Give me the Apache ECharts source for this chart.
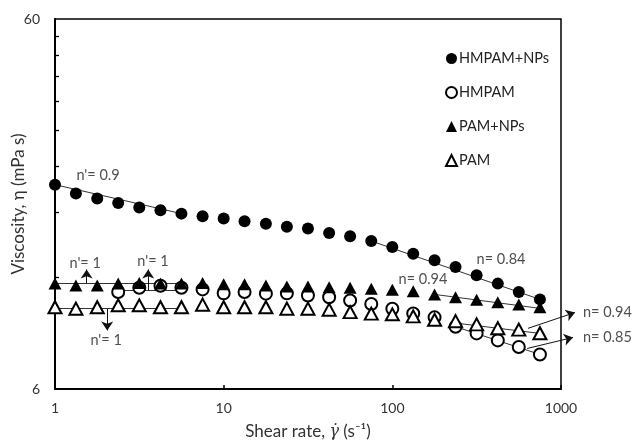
<!DOCTYPE html>
<html>
<head>
<meta charset="utf-8">
<script src="https://cdn.jsdelivr.net/npm/echarts@6/dist/echarts.min.js"></script>
<style>html,body{margin:0;padding:0;background:#fff}#c{width:632px;height:444px}</style>
</head>
<body>
<div id="c"></div>
<script>
const shearRate = [1, 1.33, 1.78, 2.37, 3.16, 4.22, 5.62, 7.5, 10, 13.3, 17.8, 23.7, 31.6, 42.2, 56.2, 75, 100, 133, 178, 237, 316, 422, 562, 750];
const hmpamNPs = [21.4, 20.25, 19.63, 19.1, 18.56, 18.25, 17.87, 17.57, 17.33, 17.04, 16.79, 16.48, 16.28, 15.84, 15.52, 15.07, 14.52, 13.93, 13.37, 12.82, 12.17, 11.56, 10.97, 10.48];
const hmpam = [null, null, null, 10.97, 11.27, 11.41, 11.27, 11.15, 10.88, 10.97, 10.86, 10.88, 10.74, 10.62, 10.41, 10.18, 9.89, 9.60, 9.37, 8.84, 8.48, 8.12, 7.79, 7.44];
const pamNPs = [11.56, 11.43, 11.43, 11.56, 11.60, 11.56, 11.56, 11.60, 11.51, 11.51, 11.43, 11.36, 11.36, 11.31, 11.27, 11.20, 11.13, 11.03, 10.81, 10.62, 10.45, 10.29, 10.15, 9.98];
const pam = [9.98, 9.89, 9.98, 10.10, 10.10, 9.98, 9.98, 10.14, 9.98, 9.98, 9.98, 9.89, 9.89, 9.83, 9.68, 9.59, 9.55, 9.43, 9.23, 9.15, 8.97, 8.76, 8.68, 8.49];
const seriesNames = ['HMPAM+NPs', 'HMPAM', 'PAM+NPs', 'PAM'];
const xTickLabels = [1, 10, 100, 1000];
const yTickLabels = [6, 60];
const yMinorTicks = [12, 18, 24, 30, 36, 42, 48, 54];
const fitLines = [
  [[1, 21.4], [5.62, 17.87]],
  [[75, 15.07], [750, 10.48]],
  [[1, 11.6], [5.62, 11.6]],
  [[2.37, 11.1], [5.62, 11.1]],
  [[1, 9.89], [5.62, 9.89]],
  [[178, 10.81], [750, 9.91]],
  [[230, 9.06], [750, 8.48]],
  [[237, 8.84], [750, 7.44]]
];
const arrows = [
  [[637, 8.75], [1211, 9.66]],
  [[630, 7.72], [1178, 8.27]],
  [[1.54, 11.6], [1.54, 12.63]],
  [[3.57, 11.1], [3.57, 12.63]],
  [[2.04, 9.89], [2.04, 8.64]]
];
const labelsCenter = [
  ["n'= 0.9", 1.80, 22.69],
  ["n'= 1", 1.51, 13.11],
  ["n'= 1", 3.81, 13.28],
  ["n'= 1", 2.01, 8.12],
  ['n= 0.84', 441, 13.44],
  ['n= 0.94', 152, 11.87]
];
const labelsLeft = [
  ['n= 0.94', 1350, 9.66],
  ['n= 0.85', 1350, 8.27]
];

const FONT = 'Lato';
const chart = echarts.init(document.getElementById('c'), null, {renderer: 'canvas'});
function pairs(ys) { return shearRate.map((x, i) => ys[i] == null ? null : [x, ys[i]]).filter(p => p); }
const symbols = ['circle', 'emptyCircle', 'triangle', 'emptyTriangle'];
const dataSets = [hmpamNPs, hmpam, pamNPs, pam];
const scatterSeries = seriesNames.map((n, i) => ({
  name: n, type: 'scatter', data: pairs(dataSets[i]), symbol: symbols[i],
  symbolSize: i < 2 ? 12 : [13, 12],
  itemStyle: {color: '#000', borderColor: '#000', borderWidth: i % 2 ? 1.7 : 0, opacity: 1},
  z: 3 + i
}));
chart.setOption({
  animation: false,
  textStyle: {fontFamily: FONT},
  grid: {left: 55, right: 71, top: 19, bottom: 55, outerBoundsMode: 'none', containLabel: false,
    show: true, borderColor: '#000', borderWidth: 1.5, backgroundColor: 'transparent'},
  legend: {
    data: seriesNames, orient: 'vertical', left: 440, top: 46, itemGap: 19, itemWidth: 11, itemHeight: 11,
    textStyle: {fontFamily: FONT, fontSize: 14.5, color: '#222', padding: [0, 0, 0, -3]}
  },
  xAxis: {
    type: 'log', logBase: 10, min: 1, max: 1000,
    name: 'Shear rate, {g|γ̇} (s⁻¹)', nameLocation: 'middle', nameGap: 34, nameMoveOverlap: false,
    nameTextStyle: {fontFamily: FONT, fontSize: 17, color: '#333',
      rich: {g: {fontFamily: 'DejaVu Serif', fontStyle: 'italic', fontSize: 16, color: '#333'}}},
    axisLine: {lineStyle: {color: '#000', width: 2}},
    axisTick: {inside: true, length: 4, lineStyle: {color: '#000', width: 1.5}},
    axisLabel: {customValues: xTickLabels, formatter: v => String(v), fontFamily: FONT, fontSize: 14, color: '#333', margin: 12},
    splitLine: {show: false}, minorTick: {show: false}
  },
  yAxis: {
    type: 'log', logBase: 10, min: 6, max: 60,
    name: 'Viscosity, η (mPa s)', nameLocation: 'middle', nameGap: 28, nameMoveOverlap: false,
    nameTextStyle: {fontFamily: FONT, fontSize: 17, color: '#333'},
    axisLine: {lineStyle: {color: '#000', width: 2}},
    axisTick: {show: true, inside: true, length: 4, customValues: yMinorTicks, lineStyle: {color: '#000', width: 1.3}},
    axisLabel: {
      formatter: v => (yTickLabels.indexOf(Math.round(v)) >= 0 && Math.abs(v - Math.round(v)) < 1e-6) ? String(Math.round(v)) : '',
      showMinLabel: true, showMaxLabel: true, hideOverlap: false,
      fontFamily: FONT, fontSize: 14, color: '#333', margin: 15
    },
    splitLine: {show: false}
  },
  series: [
    {
      type: 'lines', coordinateSystem: 'cartesian2d', silent: true, clip: false, z: 2,
      lineStyle: {color: '#333', width: 1, opacity: 1}, symbol: 'none',
      data: fitLines.map(c => ({coords: c}))
    },
    ...scatterSeries,
    {
      type: 'lines', coordinateSystem: 'cartesian2d', silent: true, clip: false, z: 8,
      lineStyle: {color: '#111', width: 1, opacity: 1}, symbol: ['none', 'arrow'], symbolSize: [0, 9],
      data: arrows.map(c => ({coords: c}))
    },
    {
      type: 'scatter', silent: true, clip: false, symbolSize: 0, z: 9,
      data: labelsCenter.map(l => ({name: l[0], value: [l[1], l[2]]})),
      label: {show: true, position: 'inside', formatter: p => p.name, fontFamily: FONT, fontSize: 14.5, color: '#222'}
    },
    {
      type: 'scatter', silent: true, clip: false, symbolSize: 0, z: 9,
      data: labelsLeft.map(l => ({name: l[0], value: [l[1], l[2]]})),
      label: {show: true, position: 'right', distance: 0, formatter: p => p.name, fontFamily: FONT, fontSize: 14.5, color: '#222'}
    }
  ]
});
</script>
</body>
</html>
